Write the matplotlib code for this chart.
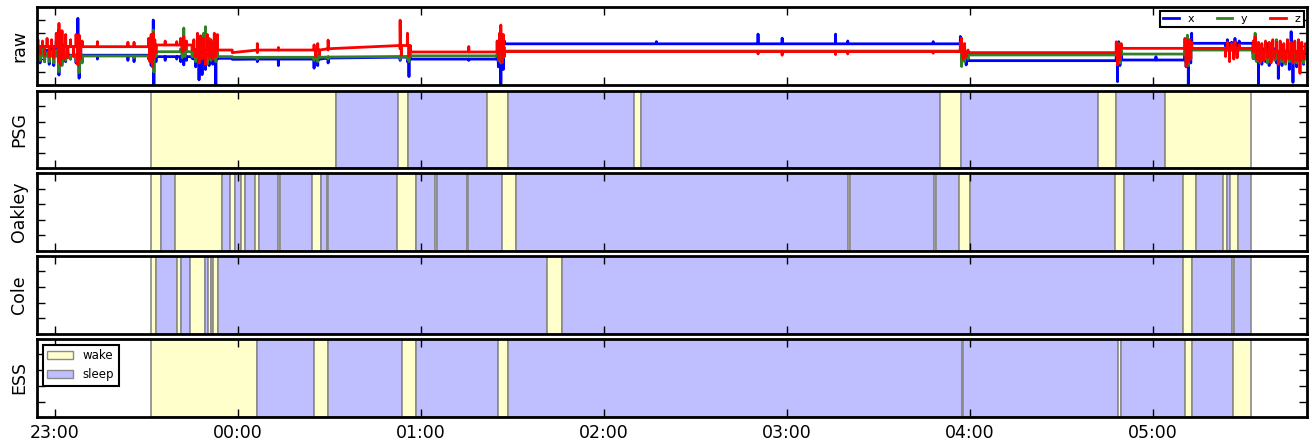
import numpy as np
import matplotlib
matplotlib.use('Agg')
import matplotlib.pyplot as plt
from matplotlib.patches import Patch

nan = np.nan

# time is in minutes after 23:00
HOUR_LABELS = ['23:00', '00:00', '01:00', '02:00', '03:00', '04:00', '05:00']
REC_START, REC_END = -5.9, 410.4
SCORE_START, SCORE_END = 31.6, 392.0

# wake epochs per scoring method, sleep is everything in between
PSG_WAKE = [(31.6, 92.2), (112.5, 115.8), (141.6, 148.7), (189.9, 192.2),
            (290.2, 297.0), (341.8, 347.8), (363.9, 392.0)]
OAKLEY_WAKE = [(31.6, 34.8), (39.3, 54.8), (57.3, 59.2), (61.1, 62.2), (65.7, 66.8),
               (73.3, 73.8), (84.3, 87.3), (89.2, 89.7), (112.2, 118.3), (124.7, 125.2),
               (135.0, 135.5), (146.6, 151.3), (260.0, 260.5), (288.2, 288.7),
               (296.2, 299.8), (347.5, 350.5), (369.6, 374.0), (382.9, 384.1),
               (385.2, 387.9)]
COLE_WAKE = [(31.6, 33.3), (40.1, 41.5), (44.2, 49.3), (50.1, 51.3), (51.9, 53.4),
             (161.3, 166.4), (369.9, 372.6), (385.7, 386.4)]
ESS_WAKE = [(31.6, 66.3), (85.1, 89.7), (113.8, 118.5), (145.4, 148.4), (297.2, 297.7),
            (348.4, 349.5), (370.4, 372.6), (386.1, 392.0)]

# raw accelerometer: resting levels between movements
SEG_EDGES = [-5.9, 32.0, 45.0, 58.2, 66.4, 89.6, 113.2, 116.5, 146.2, 297.5, 349.2,
             371.5, 392.7, 410.4]
X_LEVEL = [-0.70, -0.81, -0.94, -1.02, -1.00, -0.92, -0.85, -1.00, 0.18, -1.12, -1.07, 0.22, -0.60]
Y_LEVEL = [-0.76, -0.43, -0.81, -0.86, -0.86, -0.84, -0.80, -0.75, -0.38, -0.68, -0.61, -0.30, -0.95]
Z_LEVEL = [-0.04, 0.09, -0.30, -0.50, -0.30, -0.20, 0.05, -0.45, -0.42, -0.50, -0.17, -0.17, -0.40]

# movement spikes (nan = channel stays at rest level)
SPIKE_T = [-5.5, -4.8, -4.0, -3.3, -2.5, -1.8, -1.0, -0.3, 0.5, 1.2, 1.4, 1.9, 2.4, 3.0, 3.6,
           4.3, 5.2, 6.2, 7.0, 7.6, 8.0, 8.5, 9.0,
           14.0, 24.0, 26.0,
           30.8, 31.2, 31.6, 32.0, 32.3, 32.5, 32.8, 33.2,
           36.2, 40.0,
           41.3, 41.8, 42.3, 42.7, 43.2,
           45.6, 46.2, 46.8, 47.3, 47.8, 48.3, 48.8, 49.4, 50.0, 50.6, 51.2, 51.8, 52.3, 52.8, 53.3,
           66.4, 73.3, 85.0, 85.6, 86.2, 86.8, 89.6,
           113.2, 113.6, 115.6, 116.1, 116.6, 135.7,
           145.0, 145.4, 145.8, 146.2, 146.6, 147.0, 147.4,
           197.2, 230.5, 238.4, 255.9, 259.9, 287.9,
           296.8, 297.2, 297.7, 298.2, 298.7, 299.3,
           347.9, 348.3, 348.7, 349.1, 349.5, 360.9,
           370.4, 370.8, 371.2, 371.5, 371.9, 372.3, 372.6,
           383.7, 384.3, 385.0, 385.7, 386.4, 386.8, 387.5, 388.2,
           392.8, 393.4, 393.9, 394.5, 395.0, 395.6, 396.2, 396.8, 397.4, 398.0, 398.6, 399.2,
           399.8, 400.4, 401.0, 401.6, 402.2, 402.8, 403.4, 404.0, 404.6, 405.2, 405.8, 406.4,
           407.0, 407.6, 408.1, 408.7, 409.3, 409.9]
SPIKE_X = [-0.2, -1.3, 0.3, -1.2, -0.3, -1.4, 0.0, -1.5, 0.4, 1.25, -2.23, 0.3, -1.3, 0.1, -1.2,
           -0.5, -1.0, -0.4, -1.3, 2.15, -2.48, 0.2, -1.2,
           -1.0, -1.1, -1.2,
           -1.0, -0.3, -1.5, -0.2, 2.02, -3.2, -0.6, -1.2,
           -1.1, -1.0,
           -1.2, -0.5, -1.45, -0.6, -1.1,
           -1.0, -1.6, -0.3, -2.6, 0.73, -2.2, -0.5, -1.8, -0.6, -1.5, -0.8, -1.4, -0.4, -3.2, -1.0,
           -1.2, -1.5, -1.7, -0.6, -1.5, -0.7, -1.3,
           -1.1, -0.7, -1.2, -2.35, -0.8, -1.1,
           -0.8, -1.6, -0.5, -3.2, 0.6, -1.8, 0.4,
           0.35, 0.93, 0.62, 0.93, 0.4, 0.35,
           0.75, -0.6, 0.1, -1.1, -1.45, -0.9,
           -0.6, -2.74, 0.34, -1.5, -0.7, -0.81,
           -0.5, -1.6, -0.4, -3.2, -0.2, -1.3, 1.0,
           0.0, 0.5, -0.5, 0.3, -0.7, 0.6, -0.3, 0.4,
           -0.2, -1.0, 0.2, -3.2, -0.3, -1.4, -0.2, -1.2, 0.2, -1.5, -0.4, -1.0,
           -0.2, -1.3, -2.5, -0.6, -1.5, -0.3, -1.3, -0.5, -1.8, 1.12, -2.8, -0.3,
           -1.6, -0.4, -1.2, -0.3, -1.4, -0.5]
SPIKE_Y = [-0.3, -1.1, -0.2, -1.2, -0.5, -1.2, -0.4, -1.3, -0.3, -0.2, -1.97, -0.1, -1.5, -0.3, -1.1,
           -0.7, -1.0, -0.5, -1.2, -0.3, -2.05, -0.2, -1.3,
           nan, nan, -0.9,
           -0.9, -0.5, 0.4, -1.5, 1.25, -2.0, -0.1, -0.8,
           nan, nan,
           -0.2, -0.9, 1.4, -0.8, 0.2,
           -0.5, -1.2, 0.4, -1.0, -0.3, 0.2, 1.0, 1.5, -1.4, 0.6, -1.1, 0.3, -0.6, -1.2, 0.2,
           -1.0, nan, -1.1, -0.5, -1.2, -0.6, -1.0,
           -1.0, -0.6, -1.0, -1.2, -0.6, nan,
           -0.6, -1.1, -0.4, -1.3, 0.3, -0.9, -0.1,
           nan, -0.55, -0.55, -0.5, nan, nan,
           -0.2, -1.57, -0.4, -1.2, -0.6, -1.0,
           -0.4, -1.2, 0.2, -1.3, -0.3, nan,
           -0.2, -1.3, 0.85, -1.5, 0.2, -1.0, 0.3,
           -0.6, -0.1, -0.8, 0.0, -0.7, -0.1, -0.6, -0.2,
           0.0, 1.0, -1.2, -0.4, -1.3, -0.3, -1.1, -0.5, -1.3, -0.4, -1.2, -0.2,
           -1.1, 0.5, -1.3, -0.3, -1.2, -0.2, -1.4, -0.4, -1.2, -0.5, -1.3, -0.4,
           -1.3, -0.6, -1.2, -0.7, -1.3, -0.8]
SPIKE_Z = [0.5, -0.6, 0.4, -0.7, 0.6, -0.8, 0.5, -0.9, 1.0, -1.2, 1.76, -1.45, 1.2, -1.0, 0.9,
           -0.9, 0.5, -0.8, 0.9, -1.45, 0.86, -1.0, 0.4,
           0.35, 0.3, 0.3,
           0.6, -1.2, 0.9, -1.6, 1.0, -0.9, 0.5, -0.5,
           0.4, 0.35,
           0.6, -0.4, 0.73, -0.3, 0.4,
           0.5, -0.8, 1.0, -1.3, 0.8, -1.0, 0.6, -1.4, 0.9, -0.9, 0.5, -1.0, 1.0, -0.8, 0.9,
           0.2, -0.1, 0.1, -0.8, 0.2, -0.6, 0.47,
           2.0, -0.7, 1.0, -0.8, 0.0, -0.03,
           0.4, -1.0, 1.0, 1.63, -1.3, 0.9, -0.8,
           nan, -0.6, -0.7, -0.65, -0.6, -0.55,
           0.3, 0.62, -1.0, 0.2, -0.8, -0.3,
           0.34, -1.45, 0.1, -1.0, 0.2, nan,
           0.6, -1.59, 0.4, -1.2, 0.5, -1.0, 0.3,
           -0.8, 0.3, -1.2, 0.2, -1.0, 0.34, -0.9, 0.1,
           0.4, 0.73, -1.0, 0.3, -1.2, 0.2, -1.1, 0.4, -0.9, 0.3, -1.3, 0.5,
           -0.9, 0.3, -1.4, 0.4, -1.0, 0.2, -1.2, 0.5, -1.0, 0.3, -1.3, 0.4,
           -1.1, 0.5, -2.1, 0.3, -1.0, 0.2]

WAKE_COLOR = '#FFFFCC'
SLEEP_COLOR = '#BFBFFF'
EDGE_COLOR = '#8a8a8a'


def trace(levels, spikes):
    pts = []
    for i, lev in enumerate(levels):
        pts.append((SEG_EDGES[i], len(pts), lev))
        pts.append((SEG_EDGES[i + 1], len(pts), lev))
    idx = np.searchsorted(SEG_EDGES, SPIKE_T, side='right') - 1
    for s, p, i in zip(SPIKE_T, spikes, idx):
        if np.isnan(p):
            continue
        base = levels[min(max(i, 0), len(levels) - 1)]
        pts.append((s - 0.06, len(pts), base))
        pts.append((s, len(pts), p))
        pts.append((s + 0.06, len(pts), base))
    pts.sort()
    return [p[0] for p in pts], [p[2] for p in pts]


def draw_scores(ax, wake):
    cur = SCORE_START
    for a, b in wake:
        if a > cur:
            ax.axvspan(cur, a, facecolor=SLEEP_COLOR, edgecolor=EDGE_COLOR, lw=1.2)
        ax.axvspan(a, b, facecolor=WAKE_COLOR, edgecolor=EDGE_COLOR, lw=1.2)
        cur = b
    if cur < SCORE_END:
        ax.axvspan(cur, SCORE_END, facecolor=SLEEP_COLOR, edgecolor=EDGE_COLOR, lw=1.2)


W, H = 1312, 445
fig = plt.figure(figsize=(W / 100, H / 100), dpi=100)
boxes = [(7.3, 85.0), (91.0, 168.3), (173.3, 251.0), (255.7, 334.0), (338.7, 417.3)]
names = ['raw', 'PSG', 'Oakley', 'Cole', 'ESS']
axes = []
for (top, bot), name in zip(boxes, names):
    ax = fig.add_axes([36.7 / W, 1 - bot / H, (1307 - 36.7) / W, (bot - top) / H])
    ax.set_xlim(REC_START, REC_END)
    ax.set_xticks(np.arange(len(HOUR_LABELS)) * 60)
    ax.tick_params(direction='in', top=True, right=True, length=6, width=1,
                   labelleft=False, labelbottom=False)
    for sp in ax.spines.values():
        sp.set_linewidth(2)
    ax.set_ylabel(name, fontsize=12.5, labelpad=6)
    axes.append(ax)

raw = axes[0]
for lev, spk, col, lab in [(X_LEVEL, SPIKE_X, 'b', 'x'), (Y_LEVEL, SPIKE_Y, (0.2, 0.5, 0.15), 'y'),
                           (Z_LEVEL, SPIKE_Z, 'r', 'z')]:
    t, v = trace(lev, spk)
    raw.plot(t, v, color=col, lw=2, label=lab)
raw.set_ylim(-3, 3)
raw.set_yticks([-3, -2, -1, 0, 1, 2, 3])
leg = raw.legend(loc='upper right', ncol=3, fontsize=8, fancybox=False, edgecolor='black',
                 framealpha=1, handlelength=1.4, borderaxespad=0.3, borderpad=0.3,
                 columnspacing=2.0)
leg.get_frame().set_linewidth(1.5)

for ax, wake in zip(axes[1:], [PSG_WAKE, OAKLEY_WAKE, COLE_WAKE, ESS_WAKE]):
    draw_scores(ax, wake)
    ax.set_ylim(0, 1)
    ax.set_yticks([0, 0.2, 0.4, 0.6, 0.8, 1.0])

ess = axes[-1]
ess.tick_params(labelbottom=True, labelsize=12.5, pad=5)
ess.set_xticklabels(HOUR_LABELS)
leg = ess.legend(handles=[Patch(facecolor=WAKE_COLOR, edgecolor=EDGE_COLOR, label='wake'),
                          Patch(facecolor=SLEEP_COLOR, edgecolor=EDGE_COLOR, label='sleep')],
                 loc='upper left', fontsize=8.5, fancybox=False, edgecolor='black',
                 framealpha=1, borderaxespad=0.5, handlelength=2.2)
leg.get_frame().set_linewidth(1.5)

fig.savefig('out.png', dpi=100)
